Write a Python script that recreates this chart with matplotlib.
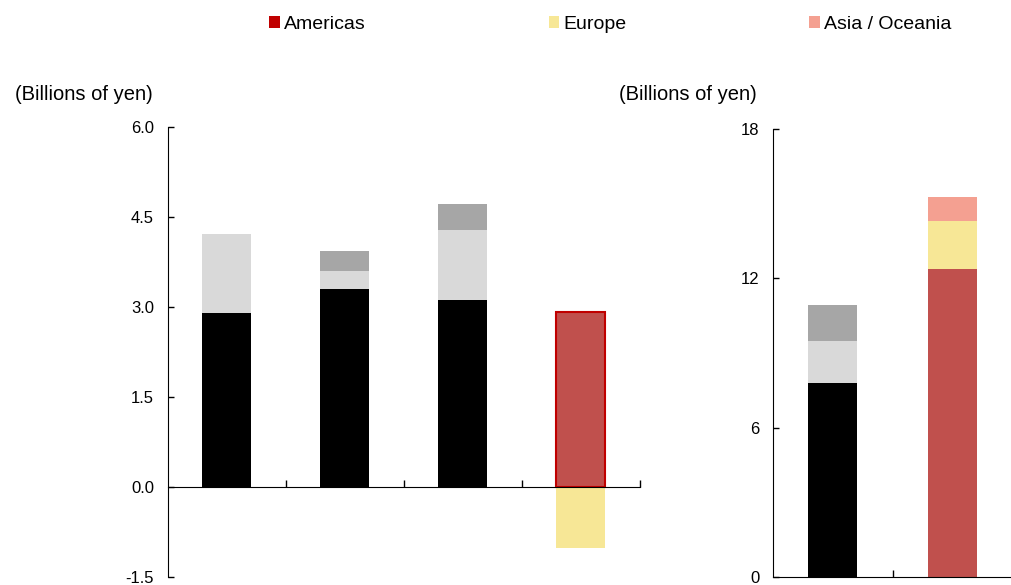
import matplotlib
matplotlib.use('Agg')
import matplotlib.pyplot as plt
from matplotlib.patches import Patch
import numpy as np

plt.rcParams['font.family'] = ['Liberation Sans', 'DejaVu Sans']

# left panel: four bars, stacked segments (billions of yen)
left_black = [2.90, 3.30, 3.12, 0.0]
left_light = [1.32, 0.30, 1.16, 0.0]
left_dark = [0.0, 0.33, 0.44, 0.0]
left_americas = [0.0, 0.0, 0.0, 2.92]
left_europe = [0.0, 0.0, 0.0, -1.02]
left_yticks = [-1.5, 0.0, 1.5, 3.0, 4.5, 6.0]

# right panel: two bars
right_black = [7.80, 0.0]
right_light = [1.68, 0.0]
right_dark = [1.44, 0.0]
right_americas = [0.0, 12.37]
right_europe = [0.0, 1.93]
right_asia = [0.0, 0.96]
right_yticks = [0, 6, 12, 18]

legend_labels = ['Americas', 'Europe', 'Asia / Oceania']

c_black = '#000000'
c_light = '#D9D9D9'
c_dark = '#A6A6A6'
c_red = '#C0504D'
c_red_edge = '#C00000'
c_yellow = '#F7E796'
c_pink = '#F4A091'

fig = plt.figure(figsize=(10.12, 5.85), dpi=100)
ax1 = fig.add_axes([0.166, 0.0137, 0.466, 0.769])
ax2 = fig.add_axes([0.764, 0.0137, 0.236, 0.766])


def style_axis(ax, n):
    for s in ['top', 'right']:
        ax.spines[s].set_visible(False)
    ax.spines['bottom'].set_position(('data', 0))
    ax.set_xlim(-0.5, n - 0.5)
    ax.set_xticks(np.arange(n) + 0.5)
    ax.set_xticklabels([])
    ax.tick_params(axis='x', direction='in', length=5, width=1)
    ax.tick_params(axis='y', direction='in', length=4, width=1,
                   labelsize=12, pad=10)


x1 = np.arange(4)
w = 0.415
b1 = np.array(left_black)
b2 = b1 + np.array(left_light)
ax1.bar(x1, left_black, w, color=c_black, zorder=2)
ax1.bar(x1, left_light, w, bottom=b1, color=c_light, zorder=2)
ax1.bar(x1, left_dark, w, bottom=b2, color=c_dark, zorder=2)
ax1.bar(x1, left_americas, w, color=c_red, edgecolor=[c_red_edge if v > 0 else 'none' for v in left_americas],
        linewidth=1.5, zorder=2)
ax1.bar(x1, left_europe, w, color=c_yellow, zorder=2)
style_axis(ax1, 4)
ax1.set_ylim(-1.5, 6.0)
ax1.set_yticks(left_yticks)
ax1.set_yticklabels([f'{v:.1f}' for v in left_yticks])

x2 = np.arange(2)
w2 = 0.41
r1 = np.array(right_black)
r2 = r1 + np.array(right_light)
ax2.bar(x2, right_black, w2, color=c_black, zorder=2)
ax2.bar(x2, right_light, w2, bottom=r1, color=c_light, zorder=2)
ax2.bar(x2, right_dark, w2, bottom=r2, color=c_dark, zorder=2)
a1 = np.array(right_americas)
a2 = a1 + np.array(right_europe)
ax2.bar(x2, right_americas, w2, color=c_red, zorder=2)
ax2.bar(x2, right_europe, w2, bottom=a1, color=c_yellow, zorder=2)
ax2.bar(x2, right_asia, w2, bottom=a2, color=c_pink, zorder=2)
style_axis(ax2, 2)
ax2.set_ylim(0, 18)
ax2.set_yticks(right_yticks)
ax2.set_yticklabels([str(v) for v in right_yticks])

fig.text(0.015, 0.838, '(Billions of yen)', fontsize=14.5, va='center', ha='left')
fig.text(0.612, 0.838, '(Billions of yen)', fontsize=14.5, va='center', ha='left')

handles = [Patch(facecolor=c_red_edge), Patch(facecolor=c_yellow), Patch(facecolor=c_pink)]
fig.legend(handles, legend_labels, loc='center', bbox_to_anchor=(0.603, 0.958), ncol=3,
           frameon=False, fontsize=14, handlelength=0.55, handleheight=0.55,
           handletextpad=0.2, columnspacing=9.4)

fig.savefig('out.png', dpi=100)
